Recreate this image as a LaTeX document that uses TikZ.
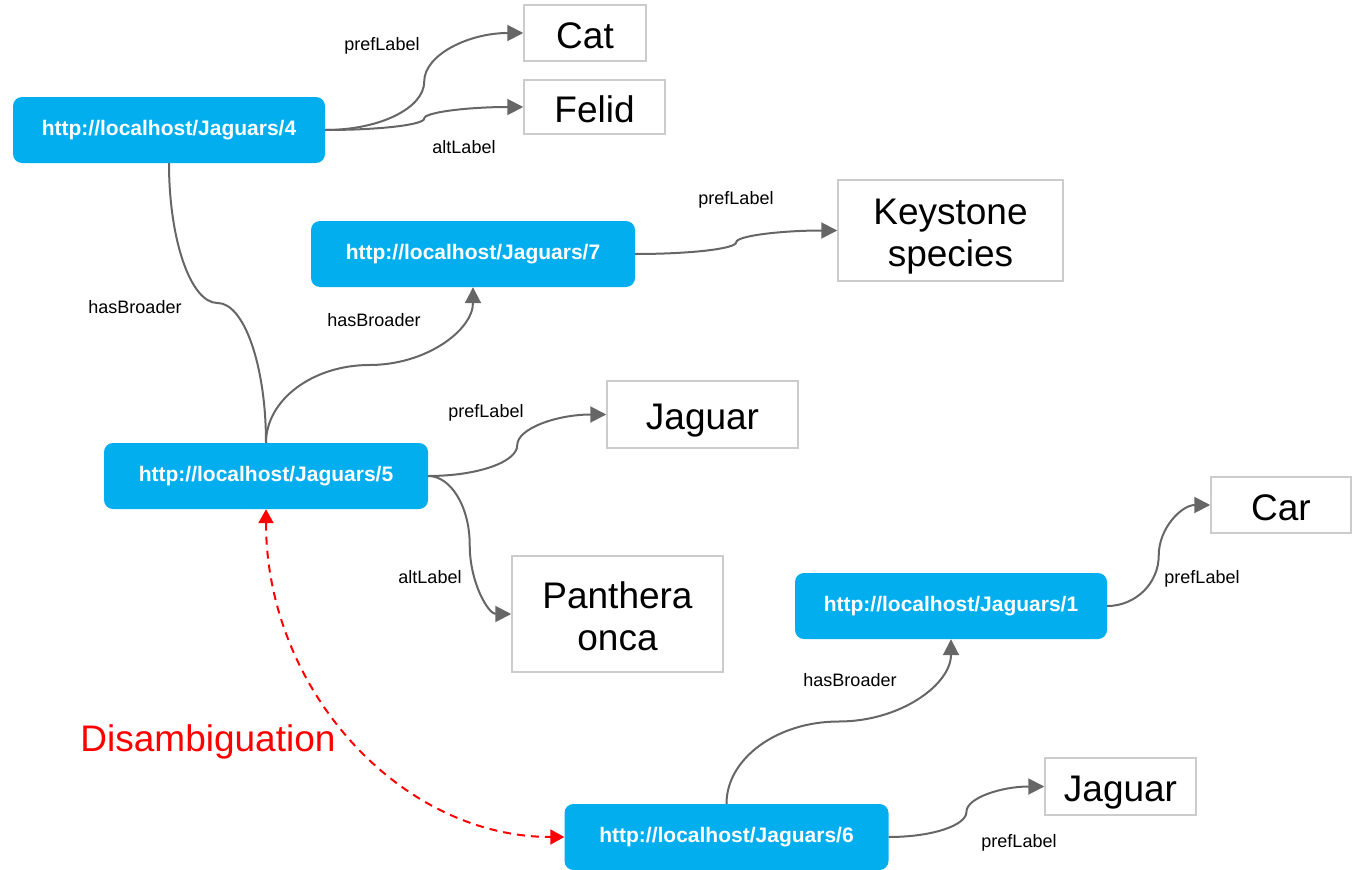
\documentclass[tikz,border=0pt]{standalone}
\usepackage{fontspec}
\setmainfont{Liberation Sans}
\usetikzlibrary{arrows.meta,calc}
\definecolor{uriblue}{RGB}{3,174,239}
\definecolor{edgegray}{RGB}{102,102,102}
\definecolor{boxgray}{RGB}{204,204,204}
\tikzset{
	uri/.style={fill=uriblue, rounded corners=9pt, minimum width=324pt, minimum height=66pt,
			text=white, font=\fontsize{21}{25}\selectfont\bfseries},
	literal/.style={draw=boxgray, line width=1.5pt, fill=white, align=center,
			text height=31pt, text depth=1pt, font=\fontsize{37}{42}\selectfont},
	twoline/.style={text height=73pt},
	relation/.style={font=\fontsize{18}{21}\selectfont},
	link/.style={draw=edgegray, line width=2pt, -{Triangle[length=16pt,width=16pt]}},
	plainlink/.style={draw=edgegray, line width=2pt},
	disambline/.style={draw=red, line width=2pt, dash pattern=on 8pt off 6pt,
			{Triangle[length=14pt,width=15pt]}-{Triangle[length=14pt,width=15pt]}},
	% horizontal out, vertical in the middle, horizontal in
	hcurve/.style={to path={let \p1=(\tikztostart), \p2=(\tikztotarget),
					\p3=($(\tikztostart)!0.5!(\tikztotarget)$) in
					.. controls ({\x1+0.55*(\x3-\x1)},\y1) and (\x3,{\y3-0.55*(\y3-\y1)}) .. (\p3)
					.. controls (\x3,{\y3+0.55*(\y3-\y1)}) and ({\x2-0.55*(\x3-\x1)},\y2) .. (\tikztotarget) \tikztonodes}},
	% vertical out, horizontal in the middle, vertical in
	vcurve/.style={to path={let \p1=(\tikztostart), \p2=(\tikztotarget),
					\p3=($(\tikztostart)!0.5!(\tikztotarget)$) in
					.. controls (\x1,{\y1+0.55*(\y3-\y1)}) and ({\x3-0.55*(\x3-\x1)},\y3) .. (\p3)
					.. controls ({\x3+0.55*(\x3-\x1)},\y3) and (\x2,{\y2-0.55*(\y3-\y1)}) .. (\tikztotarget) \tikztonodes}},
	% one quarter bend: vertical out, horizontal in
	elbow/.style={to path={let \p1=(\tikztostart), \p2=(\tikztotarget) in
					.. controls (\x1,{\y1+0.55*(\y2-\y1)}) and ({\x2-0.55*(\x2-\x1)},\y2) .. (\tikztotarget) \tikztonodes}}
}

\begin{document}
\begin{tikzpicture}[x=1pt, y=-1pt]
	\useasboundingbox (0,0) rectangle (1353,870);

	% concepts
	\node[uri, minimum width=312pt] (n4) at (169,130) {http://localhost/Jaguars/4};
	\node[uri] (n7) at (473,254) {http://localhost/Jaguars/7};
	\node[uri] (n5) at (266,476) {http://localhost/Jaguars/5};
	\node[uri, minimum width=312pt] (n1) at (951,606) {http://localhost/Jaguars/1};
	\node[uri] (n6) at (726.5,837) {http://localhost/Jaguars/6};

	% labels
	\node[literal, minimum width=122pt, minimum height=56pt] (cat) at (585,33) {Cat};
	\node[literal, minimum width=141pt, minimum height=54pt] (felid) at (594.5,107) {Felid};
	\node[literal, twoline, minimum width=225pt, minimum height=101pt] (keystone) at (950.5,230.5) {Keystone\\species};
	\node[literal, minimum width=191pt, minimum height=67pt] (jaguarA) at (702.5,414.5) {Jaguar};
	\node[literal, twoline, minimum width=211pt, minimum height=116pt] (panthera) at (617.5,614) {Panthera\\onca};
	\node[literal, minimum width=140pt, minimum height=56pt] (car) at (1281,505) {Car};
	\node[literal, minimum width=151pt, minimum height=57pt] (jaguarB) at (1120.5,786.5) {Jaguar};

	% relations
	\draw[link] (n4.east) to[hcurve] (cat.west);
	\draw[link] (n4.east) to[hcurve] (felid.west);
	\draw[link] (n7.east) to[hcurve] (keystone.west);
	\draw[link] (n5.east) to[hcurve] (jaguarA.west);
	\draw[link] (n5.east) to[hcurve] (panthera.west);
	\draw[link] (n1.east) to[hcurve] (car.west);
	\draw[link] (n6.east) to[hcurve] (jaguarB.west);
	\draw[plainlink] (n4.south) to[vcurve] (n5.north);
	\draw[link] (n5.north) to[vcurve] (n7.south);
	\draw[link] (n6.north) to[vcurve] (n1.south);

	\node[relation] (relcat) at (382,46) {prefLabel};
	\node[relation] (relfelid) at (464,147) {altLabel};
	\node[relation] (relkeystone) at (736,200) {prefLabel};
	\node[relation] (relbroaderA) at (135,307) {hasBroader};
	\node[relation] (relbroaderB) at (374,320) {hasBroader};
	\node[relation] (reljaguarA) at (486,413) {prefLabel};
	\node[relation] (relpanthera) at (430,577) {altLabel};
	\node[relation] (relcar) at (1202,579) {prefLabel};
	\node[relation] (relbroaderC) at (850,680) {hasBroader};
	\node[relation] (reljaguarB) at (1019,843) {prefLabel};

	% disambiguation
	\draw[disambline] (n5.south) to[elbow] (n6.west);
	\node[text=red, font=\fontsize{37}{42}\selectfont] (disamb) at (208,742) {Disambiguation};
\end{tikzpicture}
\end{document}
